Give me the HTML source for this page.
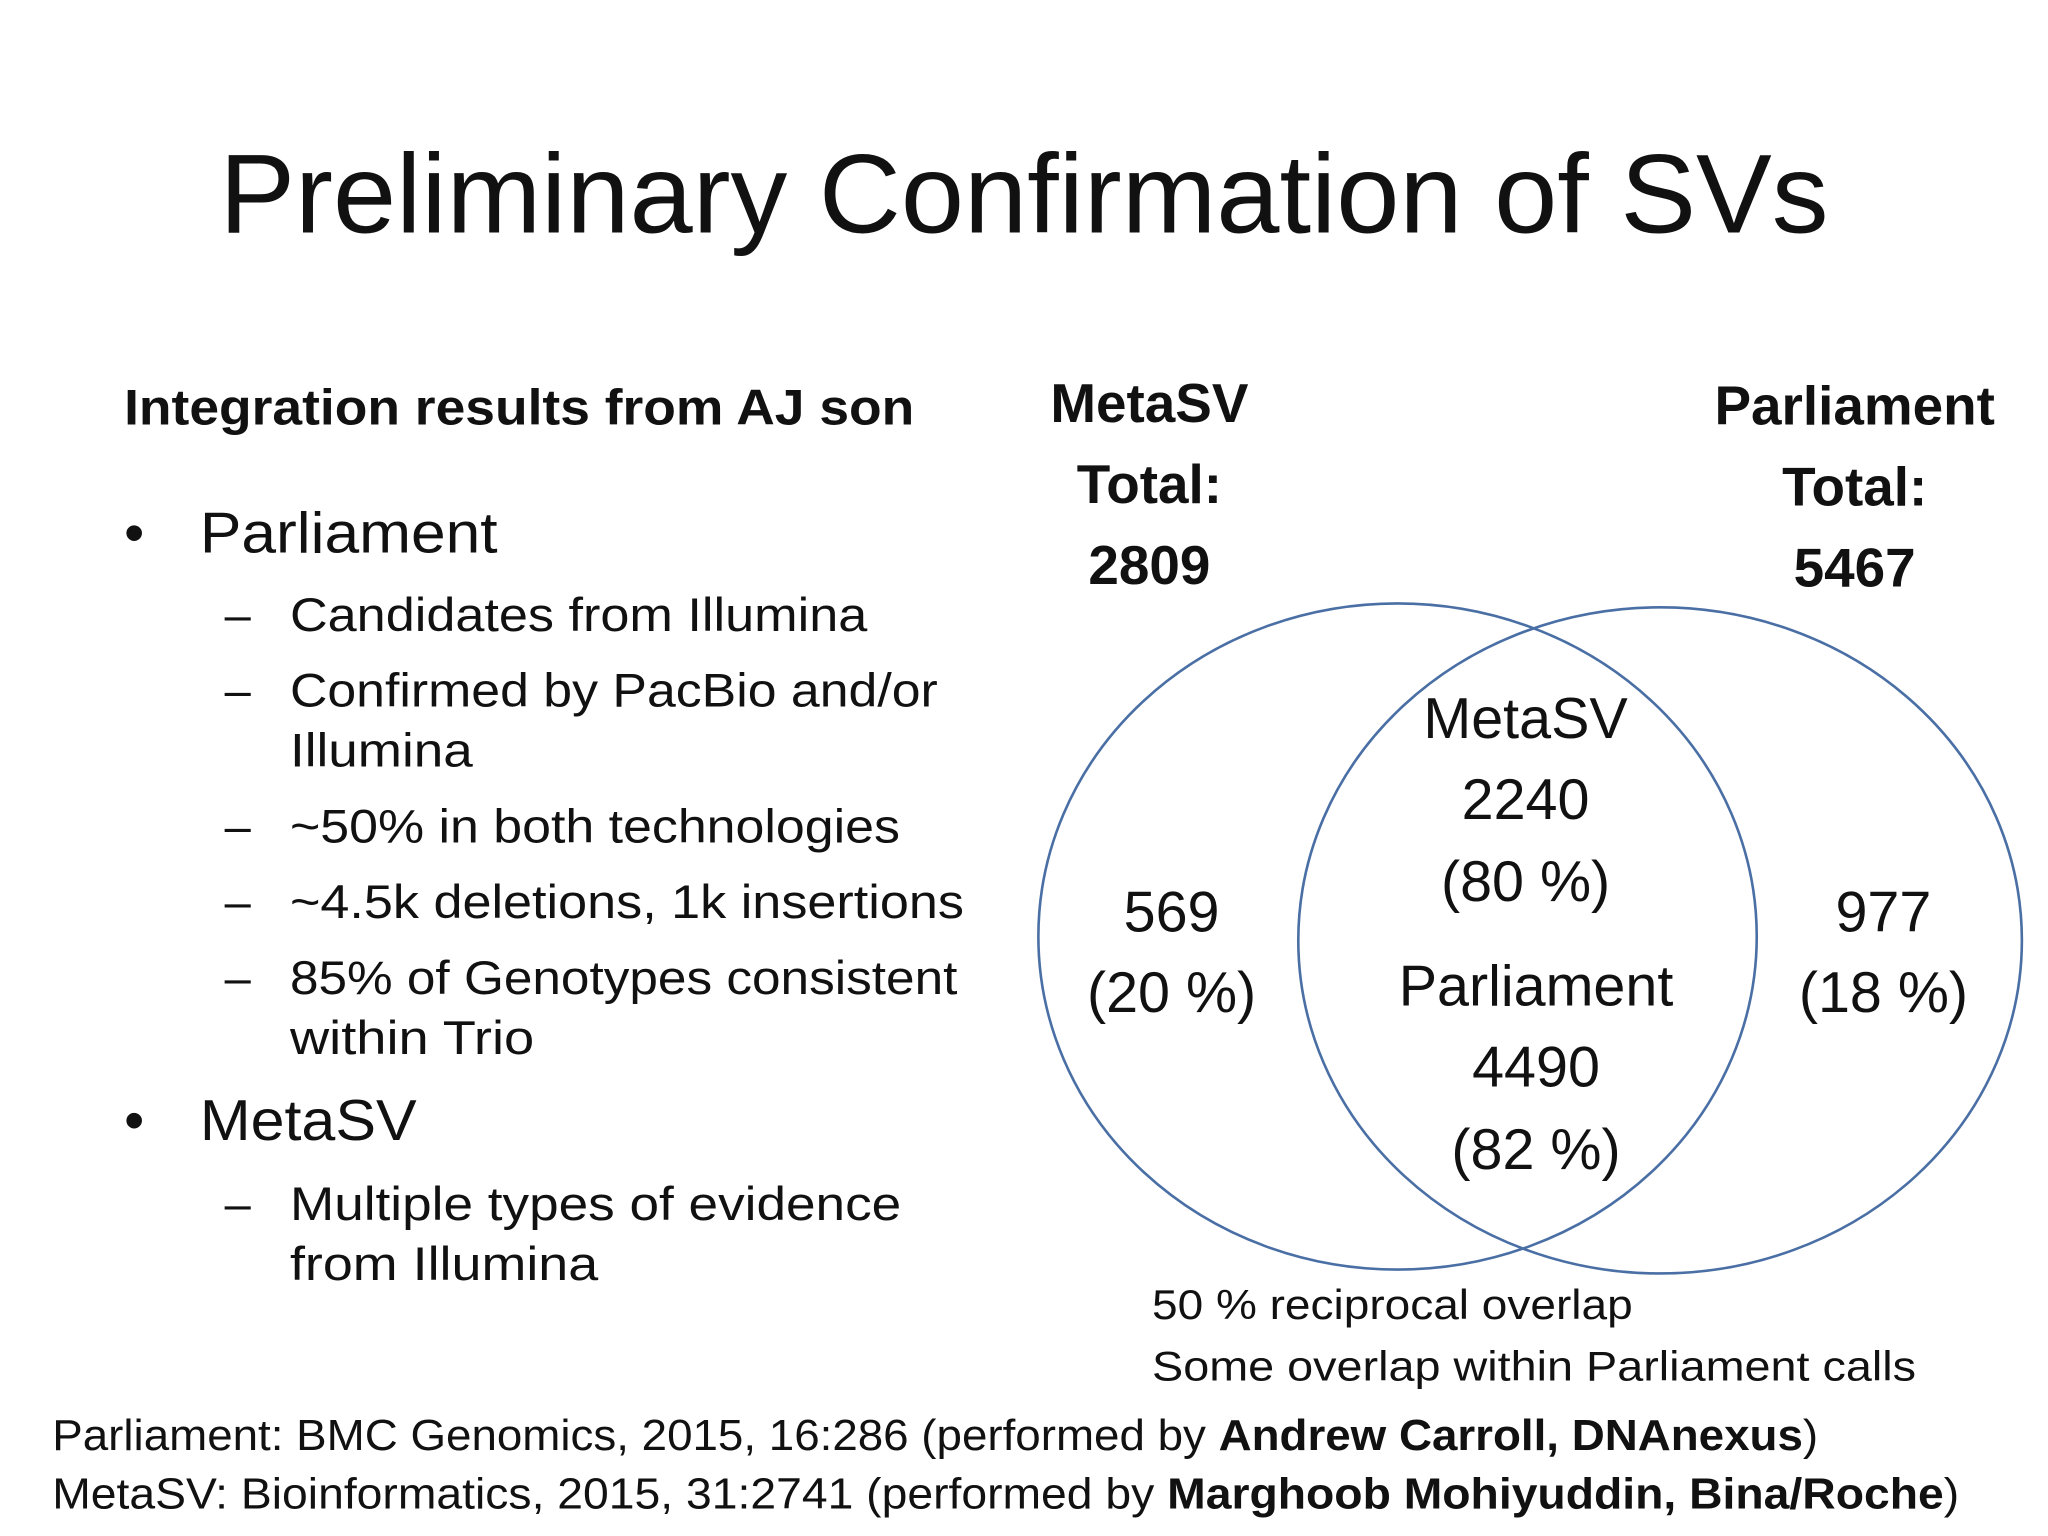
<!DOCTYPE html>
<html><head><meta charset="utf-8"><style>html,body{margin:0;padding:0;background:#fff}svg{display:block}text{font-family:"Liberation Sans",sans-serif;fill:#111}</style></head>
<body>
<svg width="2048" height="1536" viewBox="0 0 1568 1176" xmlns="http://www.w3.org/2000/svg">
<rect width="1568" height="1176" fill="#fff"/>
<text x="168" y="178" font-size="86" textLength="1232" lengthAdjust="spacingAndGlyphs">Preliminary Confirmation of SVs</text>
<g>
<text x="95" y="325" font-size="38" font-weight="bold" textLength="605" lengthAdjust="spacingAndGlyphs">Integration results from AJ son</text>
<text x="95" y="423" font-size="44">•</text><text x="153" y="423" font-size="44" textLength="228" lengthAdjust="spacingAndGlyphs">Parliament</text>
<text x="172" y="483" font-size="36">–</text><text x="222" y="483" font-size="36" textLength="442" lengthAdjust="spacingAndGlyphs">Candidates from Illumina</text>
<text x="172" y="541" font-size="36">–</text><text x="222" y="541" font-size="36" textLength="496" lengthAdjust="spacingAndGlyphs">Confirmed by PacBio and/or</text>
<text x="222" y="587" font-size="36" textLength="140" lengthAdjust="spacingAndGlyphs">Illumina</text>
<text x="172" y="645" font-size="36">–</text><text x="222" y="645" font-size="36" textLength="467" lengthAdjust="spacingAndGlyphs">~50% in both technologies</text>
<text x="172" y="703" font-size="36">–</text><text x="222" y="703" font-size="36" textLength="516" lengthAdjust="spacingAndGlyphs">~4.5k deletions, 1k insertions</text>
<text x="172" y="761" font-size="36">–</text><text x="222" y="761" font-size="36" textLength="511" lengthAdjust="spacingAndGlyphs">85% of Genotypes consistent</text>
<text x="222" y="807" font-size="36" textLength="187" lengthAdjust="spacingAndGlyphs">within Trio</text>
<text x="95" y="873" font-size="44">•</text><text x="153" y="873" font-size="44" textLength="166" lengthAdjust="spacingAndGlyphs">MetaSV</text>
<text x="172" y="934" font-size="36">–</text><text x="222" y="934" font-size="36" textLength="468" lengthAdjust="spacingAndGlyphs">Multiple types of evidence</text>
<text x="222" y="980" font-size="36" textLength="236" lengthAdjust="spacingAndGlyphs">from Illumina</text>
</g>
<g id="venn"></g>
<g>
<text x="882" y="1010" font-size="32" textLength="368" lengthAdjust="spacingAndGlyphs">50 % reciprocal overlap</text>
<text x="882" y="1057" font-size="32" textLength="585" lengthAdjust="spacingAndGlyphs">Some overlap within Parliament calls</text>
<text x="40" y="1110" font-size="33" textLength="1352" lengthAdjust="spacingAndGlyphs">Parliament: BMC Genomics, 2015, 16:286 (performed by <tspan font-weight="bold">Andrew Carroll, DNAnexus</tspan>)</text>
<text x="40" y="1155" font-size="33" textLength="1460" lengthAdjust="spacingAndGlyphs">MetaSV: Bioinformatics, 2015, 31:2741 (performed by <tspan font-weight="bold">Marghoob Mohiyuddin, Bina/Roche</tspan>)</text>
</g>
<script>
const setNames=["MetaSV","Parliament"];
const setTotals=[2809,5467];
const uniqueCounts=[569,977];
const uniquePct=[20,18];
const overlapCounts=[2240,4490];
const overlapPct=[80,82];
const NS="http://www.w3.org/2000/svg";
const g=document.getElementById('venn');
function t(x,y,s,str,bold,name){const e=document.createElementNS(NS,'text');e.setAttribute('x',x);e.setAttribute('y',y);e.setAttribute('font-size',s);e.setAttribute('text-anchor','middle');if(bold)e.setAttribute('font-weight','bold');e.textContent=str;


g.appendChild(e);}
const cx=[1070,1271],cy=[717,720],rx=[275,277],ry=[255,255];
for(let i=0;i<2;i++){const c=document.createElementNS(NS,'ellipse');c.setAttribute('cx',cx[i]);c.setAttribute('cy',cy[i]);c.setAttribute('rx',rx[i]);c.setAttribute('ry',ry[i]);c.setAttribute('fill','none');c.setAttribute('stroke','#4a6fa5');c.setAttribute('stroke-width','2');


g.appendChild(c);}
const hx=[880,1420],hy=[323,325];
for(let i=0;i<2;i++){t(hx[i],hy[i],42,setNames[i],true,'set-label');t(hx[i],hy[i]+62,42,'Total:',true,'set-total-label');t(hx[i],hy[i]+124,42,String(setTotals[i]),true,'set-total-value');}
const ux=[897,1442];
for(let i=0;i<2;i++){t(ux[i],713,44,String(uniqueCounts[i]),false,'unique-count');t(ux[i],775,44,'('+uniquePct[i]+' %)',false,'unique-percent');}
const ox=[1168,1176],oy=[565,770];
for(let i=0;i<2;i++){t(ox[i],oy[i],44,setNames[i],false,'overlap-label');t(ox[i],oy[i]+62,44,String(overlapCounts[i]),false,'overlap-count');t(ox[i],oy[i]+125,44,'('+overlapPct[i]+' %)',false,'overlap-percent');}
</script>
</svg>
</body></html>
